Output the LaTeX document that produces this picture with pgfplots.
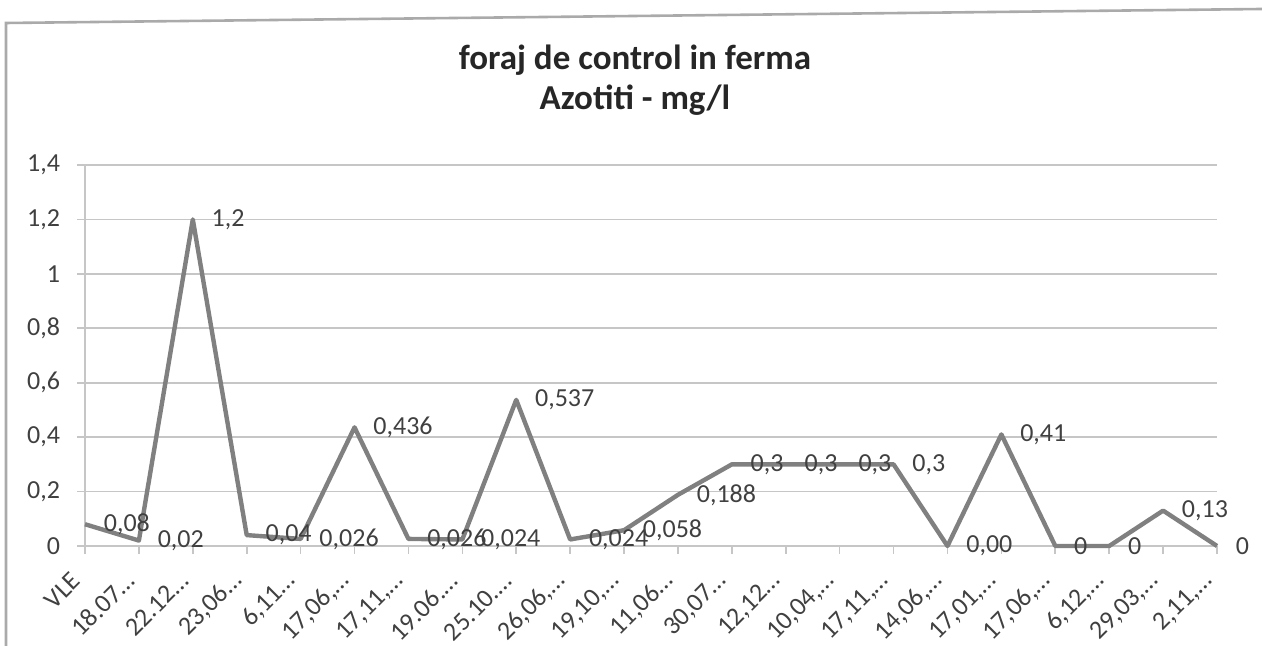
\documentclass[border=0pt]{standalone}
\usepackage{pgfplots}
\usepackage{pgfplotstable}
\pgfplotsset{compat=1.18}
\usepackage{fontspec}
\setmainfont{Carlito}
\definecolor{linegray}{RGB}{128,128,128}
\definecolor{gridgray}{RGB}{198,198,198}
\definecolor{txt}{RGB}{64,64,64}
\definecolor{framegray}{RGB}{170,170,170}
\pgfplotstableread{
x y lab
0 0.08 0,08
1 0.02 0,02
2 1.2 1,2
3 0.04 0,04
4 0.026 0,026
5 0.436 0,436
6 0.026 0,026
7 0.024 0,024
8 0.537 0,537
9 0.024 0,024
10 0.058 0,058
11 0.188 0,188
12 0.3 0,3
13 0.3 0,3
14 0.3 0,3
15 0.3 0,3
16 0.0 0,00
17 0.41 0,41
18 0.0 0
19 0.0 0
20 0.13 0,13
21 0.0 0
}\azotiti
\begin{document}
\begin{tikzpicture}[x=1pt,y=1pt]
\useasboundingbox (-42.5,-50) rectangle (588.5,273);
\draw[framegray, line width=1.3pt] (-39.5,-50) -- (-39.5,261.5) -- (588.5,268.5);
\node[font=\fontsize{17.5}{20}\selectfont\bfseries, text=black!85] at (275,243) {foraj de control in ferma};
\node[font=\fontsize{17.5}{20}\selectfont\bfseries, text=black!85] at (275,223) {Azotiti - mg/l};
\begin{axis}[
  at={(0,0)}, anchor=south west,
  scale only axis, width=566pt, height=190.5pt,
  xmin=0, xmax=21, ymin=0, ymax=1.4,
  axis lines*=left,
  axis line style={gridgray, line width=0.8pt},
  xtick={0,...,21},
  xticklabels={VLE,{18.07…},{22.12…},{23,06…},{6,11…},{17,06,…},{17,11,…},{19.06.…},{25.10.…},{26,06,…},{19,10,…},{11,06…},{30,07…},{12,12…},{10,04,…},{17,11,…},{14,06,…},{17,01,…},{17,06,…},{6,12,…},{29,03,…},{2,11,…}},
  ytick={0,0.2,0.4,0.6,0.8,1,1.2,1.4},
  yticklabels={0,{0,2},{0,4},{0,6},{0,8},1,{1,2},{1,4}},
  ymajorgrids,
  grid style={gridgray, line width=0.8pt},
  tick align=outside,
  major tick length=4pt,
  tick style={gridgray, line width=0.8pt},
  ticklabel style={font=\fontsize{13}{15}\selectfont, text=txt},
  xticklabel style={yshift=-9pt, xshift=-2pt, rotate=45, anchor=east},
  yticklabel style={xshift=-5pt},
  clip=false,
]
\addplot[linegray, line width=2.2pt, line join=round, mark=none,
  nodes near coords, point meta=explicit symbolic,
  every node near coord/.append style={anchor=west, xshift=5pt, font=\fontsize{13}{15}\selectfont, text=txt}]
  table[x=x, y=y, meta=lab] {\azotiti};
\end{axis}
\end{tikzpicture}
\end{document}
